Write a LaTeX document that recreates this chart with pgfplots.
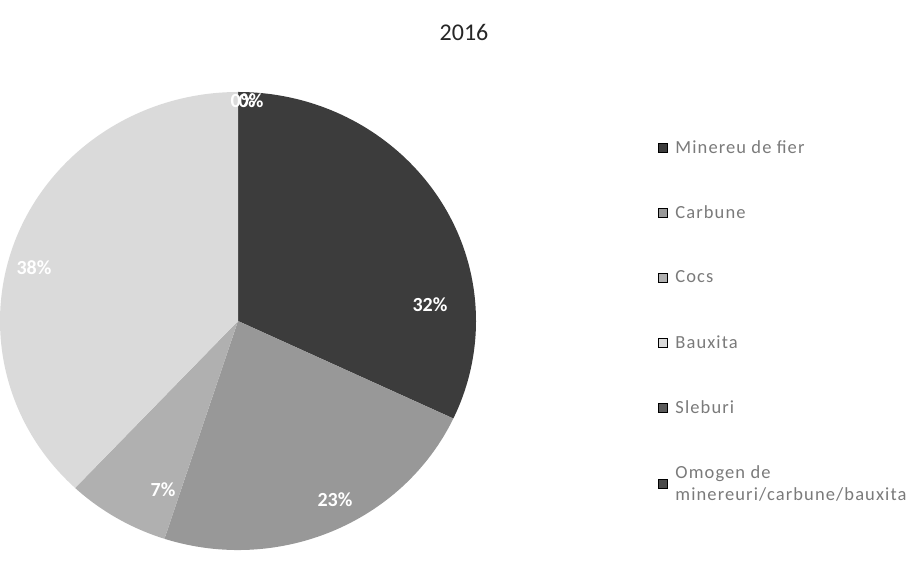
\documentclass[border=0pt]{standalone}
\usepackage{pgfplots}
\usepackage{pgfplotstable}
\pgfplotsset{compat=1.18}
\usepackage{fontspec}
\setmainfont{Carlito}
\newfontfamily\legfont[LetterSpace=6]{Carlito}
\definecolor{cMin}{HTML}{3C3C3C}
\definecolor{cCar}{HTML}{989898}
\definecolor{cCoc}{HTML}{B0B0B0}
\definecolor{cBau}{HTML}{DADADA}
\definecolor{cSle}{HTML}{5A5A5A}
\definecolor{cOmo}{HTML}{4A4A4A}
\definecolor{legtext}{HTML}{7A7A7A}
\pgfplotstableread{
label share
Minereu 32
Carbune 23
Cocs 7
Bauxita 38
Sleburi 0
Omogen 0
}\piedata
% cumulative angles (clockwise from 12 o'clock)
\pgfplotstablegetelem{0}{share}\of\piedata \let\sA\pgfplotsretval
\pgfplotstablegetelem{1}{share}\of\piedata \let\sB\pgfplotsretval
\pgfplotstablegetelem{2}{share}\of\piedata \let\sC\pgfplotsretval
\pgfplotstablegetelem{3}{share}\of\piedata \let\sD\pgfplotsretval
\pgfmathsetmacro{\aA}{90}
\pgfmathsetmacro{\aB}{90-3.6*\sA}
\pgfmathsetmacro{\aC}{\aB-3.6*\sB}
\pgfmathsetmacro{\aD}{\aC-3.6*\sC}
\pgfmathsetmacro{\aE}{\aD-3.6*\sD}
\def\cx{238}\def\cy{246}\def\rx{238}\def\ry{229}
\newcommand{\slice}[3]{%
  \fill[#3] (axis cs:\cx,\cy) -- (axis cs:{\cx+\rx*cos(#1)},{\cy+\ry*sin(#1)})
    arc[start angle=#1, end angle=#2, x radius=\rx pt, y radius=\ry pt] -- cycle;}
\begin{document}
\begin{tikzpicture}
\begin{axis}[
  width=923pt, height=567pt, scale only axis,
  xmin=0, xmax=923, ymin=0, ymax=567,
  hide axis, clip=false,
  legend style={at={(axis cs:655,431)}, anchor=north west, draw=none, fill=none,
    font=\legfont\fontsize{18.5}{22}\selectfont, text=legtext, row sep=47pt,
    nodes={align=left}},
  legend cell align=left,
  legend image code/.code={\fill[#1] (0pt,-4.5pt) rectangle (9pt,4.5pt); \path[draw=none,fill=none] (0pt,0pt) rectangle (15pt,0.1pt);},
]
\slice{\aA}{\aB}{cMin}
\slice{\aB}{\aC}{cCar}
\slice{\aC}{\aD}{cCoc}
\slice{\aD}{\aE}{cBau}
\addlegendimage{fill=cMin}\addlegendentry{Minereu de fier}
\addlegendimage{fill=cCar}\addlegendentry{Carbune}
\addlegendimage{fill=cCoc}\addlegendentry{Cocs}
\addlegendimage{fill=cBau}\addlegendentry{Bauxita}
\addlegendimage{fill=cSle}\addlegendentry{Sleburi}
\addlegendimage{fill=cOmo}\addlegendentry{Omogen de\\minereuri/carbune/bauxita}
\node[font=\fontsize{24}{28}\selectfont, text=black!85] at (axis cs:464,535) {2016};
\begin{scope}[every node/.style={font=\bfseries\fontsize{20}{24}\selectfont, text=white}]
\node at (axis cs:430,262) {32\%};
\node at (axis cs:335,67) {23\%};
\node at (axis cs:163,77) {7\%};
\node at (axis cs:34,299) {38\%};
\node at (axis cs:243,466) {0\%};
\node at (axis cs:251,466) {0\%};
\end{scope}
\end{axis}
\pgfresetboundingbox
\path[use as bounding box] (current axis.south west) rectangle (current axis.north east);
\end{tikzpicture}
\end{document}
